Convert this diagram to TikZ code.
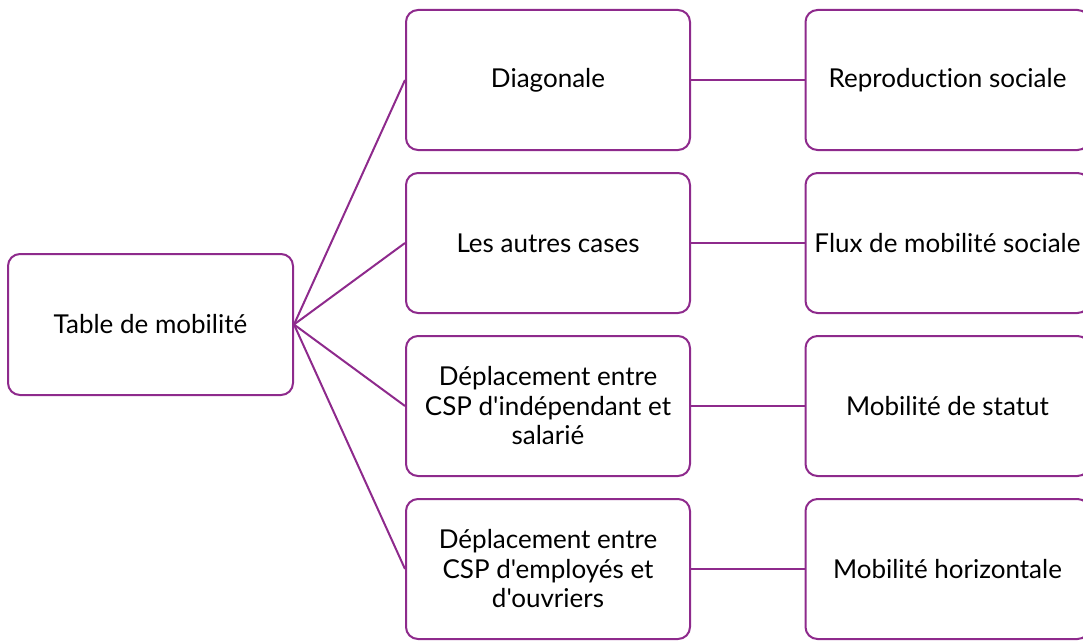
\documentclass[tikz,border=0pt]{standalone}
\usepackage{fontspec}
\setmainfont{Lato}[Ligatures={TeXOff,NoCommon}]
\definecolor{mauve}{RGB}{142,42,140}
\begin{document}
\begin{tikzpicture}[x=1pt,y=-1pt,
	boite/.style={draw=mauve,line width=2pt,rounded corners=12pt,fill=white,
		minimum width=284pt,minimum height=140pt,align=center,font=\fontsize{26}{29.5}\selectfont},
	lien/.style={draw=mauve,line width=2pt}]
	
	\useasboundingbox (0,0) rectangle (1083,642);
	
	\node[boite,minimum width=285pt,minimum height=141pt] (table) at (150.5,324.5) {Table de mobilité};
	
	\node[boite] (diag) at (548,80) {Diagonale};
	\node[boite] (autres) at (548,243) {Les autres cases};
	\node[boite] (statut) at (548,406) {Déplacement entre\\CSP d'indépendant et\\salarié};
	\node[boite] (horiz) at (548,569) {Déplacement entre\\CSP d'employés et\\d'ouvriers};
	
	\node[boite] (repro) at (947.5,80) {Reproduction sociale};
	\node[boite] (flux) at (947.5,243) {Flux de mobilité sociale};
	\node[boite] (mstatut) at (947.5,406) {Mobilité de statut};
	\node[boite] (mhoriz) at (947.5,569) {Mobilité horizontale};
	
	\foreach \b in {diag,autres,statut,horiz}
	{
		\draw[lien] (table.east) -- (\b.west);
	}
	\draw[lien] (diag) -- (repro);
	\draw[lien] (autres) -- (flux);
	\draw[lien] (statut) -- (mstatut);
	\draw[lien] (horiz) -- (mhoriz);
\end{tikzpicture}
\end{document}
